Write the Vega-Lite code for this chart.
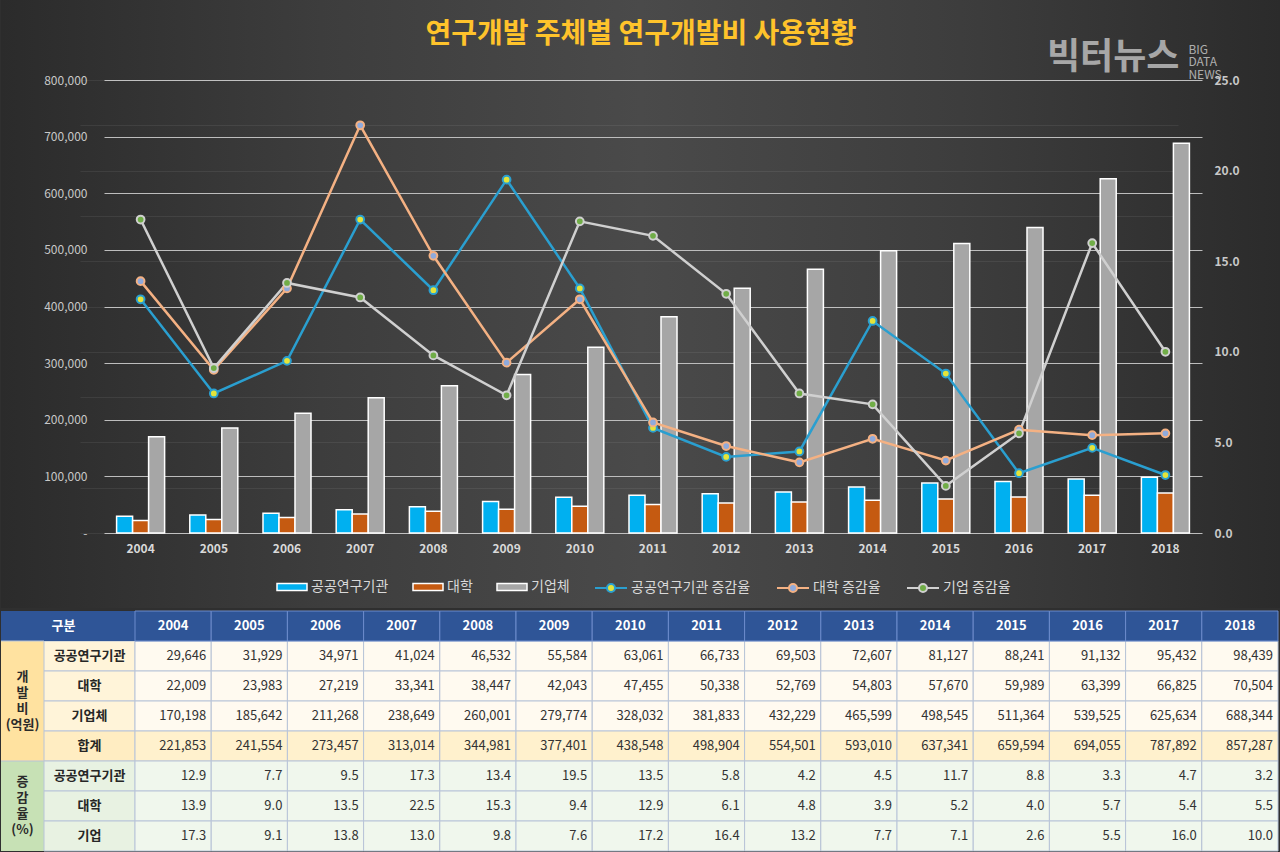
{
  "$schema": "https://vega.github.io/schema/vega-lite/v6.json",
  "background": "#2f2f2f",
  "padding": 0,
  "spacing": 2,
  "config": {
    "font": "Noto Sans CJK KR",
    "view": {"stroke": null},
    "legend": {"padding": 0, "labelFont": "Noto Sans CJK KR", "labelFontSize": 14, "labelColor": "#d9d9d9"}
  },
  "datasets": {
    "rd": [
      {"year": 2004, "group": "개발비", "item": "공공연구기관", "row": "개발비-공공연구기관", "value": 29646},
      {"year": 2005, "group": "개발비", "item": "공공연구기관", "row": "개발비-공공연구기관", "value": 31929},
      {"year": 2006, "group": "개발비", "item": "공공연구기관", "row": "개발비-공공연구기관", "value": 34971},
      {"year": 2007, "group": "개발비", "item": "공공연구기관", "row": "개발비-공공연구기관", "value": 41024},
      {"year": 2008, "group": "개발비", "item": "공공연구기관", "row": "개발비-공공연구기관", "value": 46532},
      {"year": 2009, "group": "개발비", "item": "공공연구기관", "row": "개발비-공공연구기관", "value": 55584},
      {"year": 2010, "group": "개발비", "item": "공공연구기관", "row": "개발비-공공연구기관", "value": 63061},
      {"year": 2011, "group": "개발비", "item": "공공연구기관", "row": "개발비-공공연구기관", "value": 66733},
      {"year": 2012, "group": "개발비", "item": "공공연구기관", "row": "개발비-공공연구기관", "value": 69503},
      {"year": 2013, "group": "개발비", "item": "공공연구기관", "row": "개발비-공공연구기관", "value": 72607},
      {"year": 2014, "group": "개발비", "item": "공공연구기관", "row": "개발비-공공연구기관", "value": 81127},
      {"year": 2015, "group": "개발비", "item": "공공연구기관", "row": "개발비-공공연구기관", "value": 88241},
      {"year": 2016, "group": "개발비", "item": "공공연구기관", "row": "개발비-공공연구기관", "value": 91132},
      {"year": 2017, "group": "개발비", "item": "공공연구기관", "row": "개발비-공공연구기관", "value": 95432},
      {"year": 2018, "group": "개발비", "item": "공공연구기관", "row": "개발비-공공연구기관", "value": 98439},
      {"year": 2004, "group": "개발비", "item": "대학", "row": "개발비-대학", "value": 22009},
      {"year": 2005, "group": "개발비", "item": "대학", "row": "개발비-대학", "value": 23983},
      {"year": 2006, "group": "개발비", "item": "대학", "row": "개발비-대학", "value": 27219},
      {"year": 2007, "group": "개발비", "item": "대학", "row": "개발비-대학", "value": 33341},
      {"year": 2008, "group": "개발비", "item": "대학", "row": "개발비-대학", "value": 38447},
      {"year": 2009, "group": "개발비", "item": "대학", "row": "개발비-대학", "value": 42043},
      {"year": 2010, "group": "개발비", "item": "대학", "row": "개발비-대학", "value": 47455},
      {"year": 2011, "group": "개발비", "item": "대학", "row": "개발비-대학", "value": 50338},
      {"year": 2012, "group": "개발비", "item": "대학", "row": "개발비-대학", "value": 52769},
      {"year": 2013, "group": "개발비", "item": "대학", "row": "개발비-대학", "value": 54803},
      {"year": 2014, "group": "개발비", "item": "대학", "row": "개발비-대학", "value": 57670},
      {"year": 2015, "group": "개발비", "item": "대학", "row": "개발비-대학", "value": 59989},
      {"year": 2016, "group": "개발비", "item": "대학", "row": "개발비-대학", "value": 63399},
      {"year": 2017, "group": "개발비", "item": "대학", "row": "개발비-대학", "value": 66825},
      {"year": 2018, "group": "개발비", "item": "대학", "row": "개발비-대학", "value": 70504},
      {"year": 2004, "group": "개발비", "item": "기업체", "row": "개발비-기업체", "value": 170198},
      {"year": 2005, "group": "개발비", "item": "기업체", "row": "개발비-기업체", "value": 185642},
      {"year": 2006, "group": "개발비", "item": "기업체", "row": "개발비-기업체", "value": 211268},
      {"year": 2007, "group": "개발비", "item": "기업체", "row": "개발비-기업체", "value": 238649},
      {"year": 2008, "group": "개발비", "item": "기업체", "row": "개발비-기업체", "value": 260001},
      {"year": 2009, "group": "개발비", "item": "기업체", "row": "개발비-기업체", "value": 279774},
      {"year": 2010, "group": "개발비", "item": "기업체", "row": "개발비-기업체", "value": 328032},
      {"year": 2011, "group": "개발비", "item": "기업체", "row": "개발비-기업체", "value": 381833},
      {"year": 2012, "group": "개발비", "item": "기업체", "row": "개발비-기업체", "value": 432229},
      {"year": 2013, "group": "개발비", "item": "기업체", "row": "개발비-기업체", "value": 465599},
      {"year": 2014, "group": "개발비", "item": "기업체", "row": "개발비-기업체", "value": 498545},
      {"year": 2015, "group": "개발비", "item": "기업체", "row": "개발비-기업체", "value": 511364},
      {"year": 2016, "group": "개발비", "item": "기업체", "row": "개발비-기업체", "value": 539525},
      {"year": 2017, "group": "개발비", "item": "기업체", "row": "개발비-기업체", "value": 625634},
      {"year": 2018, "group": "개발비", "item": "기업체", "row": "개발비-기업체", "value": 688344},
      {"year": 2004, "group": "개발비", "item": "합계", "row": "개발비-합계", "value": 221853},
      {"year": 2005, "group": "개발비", "item": "합계", "row": "개발비-합계", "value": 241554},
      {"year": 2006, "group": "개발비", "item": "합계", "row": "개발비-합계", "value": 273457},
      {"year": 2007, "group": "개발비", "item": "합계", "row": "개발비-합계", "value": 313014},
      {"year": 2008, "group": "개발비", "item": "합계", "row": "개발비-합계", "value": 344981},
      {"year": 2009, "group": "개발비", "item": "합계", "row": "개발비-합계", "value": 377401},
      {"year": 2010, "group": "개발비", "item": "합계", "row": "개발비-합계", "value": 438548},
      {"year": 2011, "group": "개발비", "item": "합계", "row": "개발비-합계", "value": 498904},
      {"year": 2012, "group": "개발비", "item": "합계", "row": "개발비-합계", "value": 554501},
      {"year": 2013, "group": "개발비", "item": "합계", "row": "개발비-합계", "value": 593010},
      {"year": 2014, "group": "개발비", "item": "합계", "row": "개발비-합계", "value": 637341},
      {"year": 2015, "group": "개발비", "item": "합계", "row": "개발비-합계", "value": 659594},
      {"year": 2016, "group": "개발비", "item": "합계", "row": "개발비-합계", "value": 694055},
      {"year": 2017, "group": "개발비", "item": "합계", "row": "개발비-합계", "value": 787892},
      {"year": 2018, "group": "개발비", "item": "합계", "row": "개발비-합계", "value": 857287},
      {"year": 2004, "group": "증감율", "item": "공공연구기관", "row": "증감율-공공연구기관", "value": 12.9},
      {"year": 2005, "group": "증감율", "item": "공공연구기관", "row": "증감율-공공연구기관", "value": 7.7},
      {"year": 2006, "group": "증감율", "item": "공공연구기관", "row": "증감율-공공연구기관", "value": 9.5},
      {"year": 2007, "group": "증감율", "item": "공공연구기관", "row": "증감율-공공연구기관", "value": 17.3},
      {"year": 2008, "group": "증감율", "item": "공공연구기관", "row": "증감율-공공연구기관", "value": 13.4},
      {"year": 2009, "group": "증감율", "item": "공공연구기관", "row": "증감율-공공연구기관", "value": 19.5},
      {"year": 2010, "group": "증감율", "item": "공공연구기관", "row": "증감율-공공연구기관", "value": 13.5},
      {"year": 2011, "group": "증감율", "item": "공공연구기관", "row": "증감율-공공연구기관", "value": 5.8},
      {"year": 2012, "group": "증감율", "item": "공공연구기관", "row": "증감율-공공연구기관", "value": 4.2},
      {"year": 2013, "group": "증감율", "item": "공공연구기관", "row": "증감율-공공연구기관", "value": 4.5},
      {"year": 2014, "group": "증감율", "item": "공공연구기관", "row": "증감율-공공연구기관", "value": 11.7},
      {"year": 2015, "group": "증감율", "item": "공공연구기관", "row": "증감율-공공연구기관", "value": 8.8},
      {"year": 2016, "group": "증감율", "item": "공공연구기관", "row": "증감율-공공연구기관", "value": 3.3},
      {"year": 2017, "group": "증감율", "item": "공공연구기관", "row": "증감율-공공연구기관", "value": 4.7},
      {"year": 2018, "group": "증감율", "item": "공공연구기관", "row": "증감율-공공연구기관", "value": 3.2},
      {"year": 2004, "group": "증감율", "item": "대학", "row": "증감율-대학", "value": 13.9},
      {"year": 2005, "group": "증감율", "item": "대학", "row": "증감율-대학", "value": 9.0},
      {"year": 2006, "group": "증감율", "item": "대학", "row": "증감율-대학", "value": 13.5},
      {"year": 2007, "group": "증감율", "item": "대학", "row": "증감율-대학", "value": 22.5},
      {"year": 2008, "group": "증감율", "item": "대학", "row": "증감율-대학", "value": 15.3},
      {"year": 2009, "group": "증감율", "item": "대학", "row": "증감율-대학", "value": 9.4},
      {"year": 2010, "group": "증감율", "item": "대학", "row": "증감율-대학", "value": 12.9},
      {"year": 2011, "group": "증감율", "item": "대학", "row": "증감율-대학", "value": 6.1},
      {"year": 2012, "group": "증감율", "item": "대학", "row": "증감율-대학", "value": 4.8},
      {"year": 2013, "group": "증감율", "item": "대학", "row": "증감율-대학", "value": 3.9},
      {"year": 2014, "group": "증감율", "item": "대학", "row": "증감율-대학", "value": 5.2},
      {"year": 2015, "group": "증감율", "item": "대학", "row": "증감율-대학", "value": 4.0},
      {"year": 2016, "group": "증감율", "item": "대학", "row": "증감율-대학", "value": 5.7},
      {"year": 2017, "group": "증감율", "item": "대학", "row": "증감율-대학", "value": 5.4},
      {"year": 2018, "group": "증감율", "item": "대학", "row": "증감율-대학", "value": 5.5},
      {"year": 2004, "group": "증감율", "item": "기업", "row": "증감율-기업", "value": 17.3},
      {"year": 2005, "group": "증감율", "item": "기업", "row": "증감율-기업", "value": 9.1},
      {"year": 2006, "group": "증감율", "item": "기업", "row": "증감율-기업", "value": 13.8},
      {"year": 2007, "group": "증감율", "item": "기업", "row": "증감율-기업", "value": 13.0},
      {"year": 2008, "group": "증감율", "item": "기업", "row": "증감율-기업", "value": 9.8},
      {"year": 2009, "group": "증감율", "item": "기업", "row": "증감율-기업", "value": 7.6},
      {"year": 2010, "group": "증감율", "item": "기업", "row": "증감율-기업", "value": 17.2},
      {"year": 2011, "group": "증감율", "item": "기업", "row": "증감율-기업", "value": 16.4},
      {"year": 2012, "group": "증감율", "item": "기업", "row": "증감율-기업", "value": 13.2},
      {"year": 2013, "group": "증감율", "item": "기업", "row": "증감율-기업", "value": 7.7},
      {"year": 2014, "group": "증감율", "item": "기업", "row": "증감율-기업", "value": 7.1},
      {"year": 2015, "group": "증감율", "item": "기업", "row": "증감율-기업", "value": 2.6},
      {"year": 2016, "group": "증감율", "item": "기업", "row": "증감율-기업", "value": 5.5},
      {"year": 2017, "group": "증감율", "item": "기업", "row": "증감율-기업", "value": 16.0},
      {"year": 2018, "group": "증감율", "item": "기업", "row": "증감율-기업", "value": 10.0}
    ],
    "logo": [
      {"part": "main", "label": "빅터뉴스"},
      {"part": "sub", "label": "BIG\nDATA\nNEWS"}
    ],
    "groups": [
      {"group": "개발비", "label": "개\n발\n비\n(억원)"},
      {"group": "증감율", "label": "증\n감\n율\n(%)"}
    ],
    "head": [
      {"label": "구분"}
    ]
  },
  "vconcat": [
    {
      "width": 1280,
      "height": 608,
      "title": {"text": "연구개발 주체별 연구개발비 사용현황", "color": "#ffc32b", "fontSize": 28, "fontWeight": "bold", "font": "Noto Sans CJK KR", "anchor": "middle", "offset": -49},
      "view": {"stroke": null, "fill": {"gradient": "linear", "x1": 0, "y1": 0, "x2": 1, "y2": 0, "stops": [{"offset": 0, "color": "#2b2b2b"}, {"offset": 0.25, "color": "#3d3d3d"}, {"offset": 0.5, "color": "#4a4a4a"}, {"offset": 0.75, "color": "#3d3d3d"}, {"offset": 1, "color": "#2b2b2b"}]}},
      "data": {"name": "rd"},
      "encoding": {
        "x": {
          "field": "year", "type": "ordinal",
          "scale": {"range": [103, 1201], "paddingInner": 0.344, "paddingOuter": 0.172},
          "axis": {"title": null, "labelAngle": 0, "orient": "bottom", "offset": -75, "ticks": false, "domain": false, "grid": false, "labelPadding": 10, "labelColor": "#d9d9d9", "labelFontWeight": "bold", "labelFontSize": 12}
        }
      },
      "layer": [
        {
          "layer": [
            {
              "transform": [{"filter": "datum.group === '개발비' && datum.item !== '합계'"}],
              "mark": {"type": "bar", "stroke": "#ffffff", "strokeWidth": 1.5},
              "encoding": {
                "y": {
                  "field": "value", "type": "quantitative",
                  "scale": {"domain": [0, 800000], "range": [533, 80], "nice": false},
                  "axis": {"title": null, "orient": "left", "offset": -103, "values": [0, 100000, 200000, 300000, 400000, 500000, 600000, 700000, 800000], "labelExpr": "datum.value === 0 ? '-' : format(datum.value, ',')", "ticks": false, "domain": false, "labelPadding": 17, "labelColor": "#c8c8c8", "labelFontSize": 12, "labelFlush": false, "labelOverlap": false, "grid": true, "gridColor": "#bdbdbd", "gridWidth": 1}
                },
                "xOffset": {"field": "item", "type": "nominal", "sort": ["공공연구기관", "대학", "기업체"], "scale": {"domain": ["공공연구기관", "대학", "기업체"], "paddingInner": 0, "paddingOuter": 0}},
                "fill": {
                  "field": "item", "type": "nominal",
                  "scale": {"domain": ["공공연구기관", "대학", "기업체"], "range": ["#00b0f0", "#c55a11", "#a6a6a6"]},
                  "legend": {"title": null, "orient": "none", "legendX": 275, "legendY": 571, "direction": "horizontal", "symbolType": "M-1,-0.24H1V0.24H-1Z", "symbolSize": 900, "symbolStrokeColor": "#ffffff", "symbolStrokeWidth": 1.5, "columnPadding": 21, "labelOffset": 3, "labelFontSize": 14, "labelColor": "#d9d9d9"}
                }
              }
            },
            {
              "data": {"name": "logo"},
              "transform": [{"filter": "datum.part === 'main'"}],
              "mark": {"type": "text", "fontSize": 36, "fontWeight": "bold", "color": "#c4c4c4", "opacity": 0.8, "dx": 21},
              "encoding": {"x": {"datum": 2017}, "y": {"datum": 839000}, "text": {"field": "label"}}
            },
            {
              "data": {"name": "logo"},
              "transform": [{"filter": "datum.part === 'sub'"}],
              "mark": {"type": "text", "fontSize": 12, "color": "#c4c4c4", "opacity": 0.85, "align": "left", "lineBreak": "\n", "lineHeight": 12.5, "dx": 23},
              "encoding": {"x": {"datum": 2018}, "y": {"datum": 853000}, "text": {"field": "label"}}
            }
          ]
        },
        {
          "transform": [{"filter": "datum.group === '증감율'"}],
          "layer": [
            {
              "mark": {"type": "line", "strokeWidth": 2.5},
              "encoding": {
                "y": {
                  "field": "value", "type": "quantitative",
                  "scale": {"domain": [0, 25], "range": [533, 80], "nice": false},
                  "axis": {"title": null, "orient": "right", "offset": -79, "values": [0, 0.625, 1.25, 1.875, 2.5, 3.125, 3.75, 4.375, 5, 5.625, 6.25, 6.875, 7.5, 8.125, 8.75, 9.375, 10, 10.625, 11.25, 11.875, 12.5, 13.125, 13.75, 14.375, 15, 15.625, 16.25, 16.875, 17.5, 18.125, 18.75, 19.375, 20, 20.625, 21.25, 21.875, 22.5, 23.125, 23.75, 24.375, 25], "labelExpr": "datum.value % 5 === 0 ? format(datum.value, '.1f') : ''", "ticks": false, "domain": false, "labelPadding": 12, "labelColor": "#c8c8c8", "labelFontWeight": "bold", "labelFontSize": 12, "labelFlush": false, "labelOverlap": false, "grid": true, "gridColor": "#ffffff", "gridOpacity": 0.07, "gridWidth": 1}
                },
                "stroke": {
                  "field": "item", "type": "nominal",
                  "scale": {"domain": ["공공연구기관", "대학", "기업"], "range": ["#2a9fd0", "#f4b183", "#d0d0d0"]},
                  "legend": {"title": null, "orient": "none", "legendX": 593, "legendY": 571, "direction": "horizontal", "symbolType": "M-1,0H-0.25M0.25,0H1M0.25,0A0.25,0.25 0 1,1 -0.25,0A0.25,0.25 0 1,1 0.25,0", "symbolSize": 1024, "symbolStrokeWidth": 2, "columnPadding": 22, "labelOffset": 3, "labelFontSize": 14, "labelColor": "#d9d9d9", "labelExpr": "datum.label + ' 증감율'",
                    "encode": {"symbols": {"update": {"fill": {"signal": "datum.value === '공공연구기관' ? '#e4e43a' : datum.value === '대학' ? '#8faadc' : '#70ad47'"}}}}}
                }
              }
            },
            {
              "mark": {"type": "point", "filled": true, "size": 60, "strokeWidth": 2, "opacity": 1},
              "encoding": {
                "y": {"field": "value", "type": "quantitative"},
                "stroke": {"field": "item", "type": "nominal"},
                "fill": {"condition": [{"test": "datum.item === '공공연구기관'", "value": "#e4e43a"}, {"test": "datum.item === '대학'", "value": "#8faadc"}], "value": "#70ad47"}
              }
            }
          ]
        }
      ],
      "resolve": {"scale": {"y": "independent"}, "axis": {"y": "independent"}}
    },
    {
      "bounds": "flush",
      "spacing": 0,
      "hconcat": [
        {
          "width": 43,
          "height": 240,
          "data": {"name": "rd"},
          "encoding": {"y": {"field": "row", "type": "nominal", "scale": {"domain": ["구분", "개발비-공공연구기관", "개발비-대학", "개발비-기업체", "개발비-합계", "증감율-공공연구기관", "증감율-대학", "증감율-기업"], "paddingInner": 0, "paddingOuter": 0}, "axis": null}},
          "layer": [
            {
              "transform": [{"filter": "datum.year === 2004"}],
              "mark": {"type": "rect"},
              "encoding": {"fill": {"condition": {"test": "datum.group === '증감율'", "value": "#c7e1b5"}, "value": "#ffe2a0"}}
            },
            {
              "transform": [{"filter": "datum.year === 2004 && datum.item === '합계'"}],
              "mark": {"type": "rect", "fill": "#2f5597"},
              "encoding": {"y": {"datum": "구분"}}
            },
            {
              "transform": [{"filter": "datum.year === 2004 && (datum.row === '개발비-공공연구기관' || datum.row === '증감율-공공연구기관')"}],
              "mark": {"type": "rule", "color": "#b8c4d8", "strokeWidth": 1},
              "encoding": {"y": {"field": "row", "type": "nominal", "bandPosition": 0}}
            },
            {
              "data": {"name": "groups"},
              "transform": [{"filter": "datum.group === '개발비'"}],
              "mark": {"type": "text", "lineBreak": "\n", "fontWeight": "bold", "fontSize": 13, "lineHeight": 16, "color": "#2b2b2b", "dy": -9},
              "encoding": {"y": {"datum": "개발비-대학"}, "text": {"field": "label"}}
            },
            {
              "data": {"name": "groups"},
              "transform": [{"filter": "datum.group === '증감율'"}],
              "mark": {"type": "text", "lineBreak": "\n", "fontWeight": "bold", "fontSize": 13, "lineHeight": 16, "color": "#2b2b2b", "dy": -24},
              "encoding": {"y": {"datum": "증감율-대학"}, "text": {"field": "label"}}
            }
          ]
        },
        {
          "width": 91,
          "height": 240,
          "data": {"name": "rd"},
          "encoding": {"y": {"field": "row", "type": "nominal", "scale": {"domain": ["구분", "개발비-공공연구기관", "개발비-대학", "개발비-기업체", "개발비-합계", "증감율-공공연구기관", "증감율-대학", "증감율-기업"], "paddingInner": 0, "paddingOuter": 0}, "axis": null}},
          "layer": [
            {
              "transform": [{"filter": "datum.year === 2004"}],
              "mark": {"type": "rect", "stroke": "#b8c4d8", "strokeWidth": 1},
              "encoding": {"fill": {"condition": [{"test": "datum.item === '합계'", "value": "#ffedc2"}, {"test": "datum.group === '증감율'", "value": "#e8f2e2"}], "value": "#fff4d9"}}
            },
            {
              "transform": [{"filter": "datum.year === 2004 && datum.item === '합계'"}],
              "mark": {"type": "rect", "fill": "#2f5597"},
              "encoding": {"y": {"datum": "구분"}}
            },
            {
              "transform": [{"filter": "datum.year === 2004"}],
              "mark": {"type": "text", "fontWeight": "bold", "fontSize": 13, "color": "#262626"},
              "encoding": {"text": {"field": "item"}}
            },
            {
              "data": {"name": "head"},
              "mark": {"type": "text", "fontWeight": "bold", "fontSize": 13, "color": "#ffffff", "dx": -26},
              "encoding": {"y": {"datum": "구분"}, "text": {"field": "label"}}
            }
          ]
        },
        {
          "width": 1143,
          "height": 240,
          "data": {"name": "rd"},
          "encoding": {
            "x": {"field": "year", "type": "ordinal", "scale": {"paddingInner": 0, "paddingOuter": 0}, "axis": null},
            "y": {"field": "row", "type": "nominal", "scale": {"domain": ["구분", "개발비-공공연구기관", "개발비-대학", "개발비-기업체", "개발비-합계", "증감율-공공연구기관", "증감율-대학", "증감율-기업"], "paddingInner": 0, "paddingOuter": 0}, "axis": null}
          },
          "layer": [
            {
              "mark": {"type": "rect", "stroke": "#b8c4d8", "strokeWidth": 1},
              "encoding": {"fill": {"condition": [{"test": "datum.item === '합계'", "value": "#fff1cd"}, {"test": "datum.group === '증감율'", "value": "#f0f7ed"}], "value": "#fffaf0"}}
            },
            {
              "transform": [{"filter": "datum.item === '합계'"}],
              "mark": {"type": "rect", "fill": "#2f5597", "stroke": "#6d8ccc", "strokeWidth": 1},
              "encoding": {"y": {"datum": "구분"}}
            },
            {
              "transform": [{"filter": "datum.item === '합계'"}],
              "mark": {"type": "text", "fontWeight": "bold", "fontSize": 13, "color": "#ffffff"},
              "encoding": {"y": {"datum": "구분"}, "text": {"field": "year", "type": "nominal"}}
            },
            {
              "transform": [{"filter": "datum.group === '개발비'"}],
              "mark": {"type": "text", "align": "right", "dx": -5, "fontSize": 13, "color": "#333333"},
              "encoding": {"x": {"field": "year", "type": "ordinal", "bandPosition": 1}, "text": {"field": "value", "type": "quantitative", "format": ","}}
            },
            {
              "transform": [{"filter": "datum.group === '증감율'"}],
              "mark": {"type": "text", "align": "right", "dx": -5, "fontSize": 13, "color": "#333333"},
              "encoding": {"x": {"field": "year", "type": "ordinal", "bandPosition": 1}, "text": {"field": "value", "type": "quantitative", "format": ".1f"}}
            }
          ]
        }
      ]
    }
  ]
}
